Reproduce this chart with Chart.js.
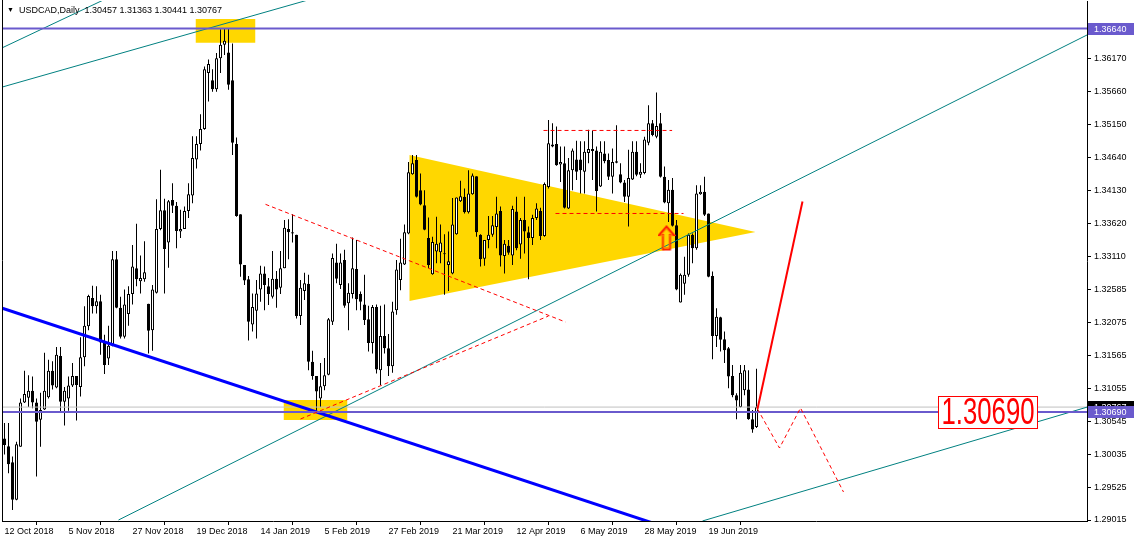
<!DOCTYPE html>
<html><head><meta charset="utf-8">
<script src="https://cdn.jsdelivr.net/npm/chart.js@4.4.1/dist/chart.umd.min.js"></script>
<style>
html,body{margin:0;padding:0;background:#fff;}
#wrap{position:relative;width:1134px;height:544px;overflow:hidden;}
canvas{display:block;}
#hdr{position:absolute;left:7px;top:4px;font:9px "Liberation Sans",Arial,sans-serif;color:#000;white-space:pre;line-height:12px;}
#hdr span{font-size:7px;vertical-align:1px;}
</style></head><body>
<div id="wrap"><canvas id="c" width="1134" height="544"></canvas>
<div id="hdr"><span>▼</span>  USDCAD,Daily  1.30457 1.31363 1.30441 1.30767</div></div>
<script>
// ---- candle data (daily USDCAD, index 0 = 12 Oct 2018) ----
const opens=[1.3028,1.3016,1.2991,1.2933,1.3015,1.3084,1.3091,1.3102,1.3084,1.3057,
1.3073,1.3092,1.3133,1.3107,1.3156,1.3085,1.3090,1.3110,1.3125,1.3108,
1.3154,1.3202,1.3246,1.3233,1.3241,1.3178,1.3152,1.3172,1.3306,1.3231,
1.3186,1.3221,1.3252,1.3292,1.3272,1.3275,1.3237,1.3196,1.3254,1.3353,
1.3382,1.3332,1.3398,1.3389,1.3349,1.3353,1.3381,1.3405,1.3461,1.3485,
1.3508,1.3595,1.3584,1.3570,1.3618,1.3639,1.3627,1.3584,1.3485,1.3376,
1.3297,1.3275,1.3205,1.3226,1.3259,1.3284,1.3264,1.3248,1.3276,1.3262,
1.3292,1.3353,1.3348,1.3344,1.3218,1.3257,1.3268,1.3147,1.3125,1.3090,
1.3109,1.3127,1.3209,1.3301,1.3266,1.3305,1.3238,1.3252,1.3291,1.3252,
1.3236,1.3213,1.3176,1.3232,1.3134,1.3187,1.3168,1.3140,1.3227,1.3274,
1.3298,1.3346,1.3438,1.3460,1.3413,1.3390,1.3339,1.3283,1.3318,1.3317,
1.3314,1.3297,1.3284,1.3345,1.3396,1.3403,1.3379,1.3407,1.3435,1.3344,
1.3307,1.3336,1.3344,1.3356,1.3381,1.3311,1.3327,1.3312,1.3380,1.3329,
1.3367,1.3348,1.3339,1.3370,1.3381,1.3342,1.3418,1.3481,1.3485,1.3453,
1.3455,1.3385,1.3444,1.3461,1.3461,1.3442,1.3471,1.3477,1.3475,1.3419,
1.3470,1.3460,1.3434,1.3458,1.3438,1.3425,1.3403,1.3430,1.3473,1.3437,
1.3440,1.3487,1.3517,1.3496,1.3517,1.3434,1.3393,1.3414,1.3359,1.3239,
1.3268,1.3282,1.3344,1.3323,1.3407,1.3411,1.3377,1.3280,1.3187,1.3216,
1.3182,1.3168,1.3125,1.3095,1.3077,1.3103,1.3104,1.3058,1.30457];
const highs=[1.3052,1.3052,1.3000,1.3023,1.3090,1.3133,1.3126,1.3124,1.3090,1.3099,
1.3161,1.3150,1.3148,1.3170,1.3170,1.3108,1.3124,1.3145,1.3125,1.3185,
1.3233,1.3251,1.3265,1.3264,1.3251,1.3189,1.3203,1.3319,1.3319,1.3248,
1.3259,1.3264,1.3328,1.3361,1.3312,1.3334,1.3237,1.3266,1.3399,1.3445,
1.3400,1.3398,1.3424,1.3395,1.3383,1.3388,1.3424,1.3497,1.3497,1.3531,
1.3605,1.3616,1.3601,1.3626,1.3663,1.3665,1.3664,1.3641,1.3495,1.3376,
1.3297,1.3280,1.3253,1.3274,1.3296,1.3295,1.3277,1.3319,1.3288,1.3319,
1.3367,1.3368,1.3376,1.3344,1.3274,1.3285,1.3282,1.3164,1.3125,1.3145,
1.3153,1.3215,1.3315,1.3330,1.3315,1.3321,1.3269,1.3340,1.3336,1.3256,
1.3282,1.3234,1.3235,1.3236,1.3234,1.3236,1.3190,1.3240,1.3305,1.3338,
1.3360,1.3457,1.3468,1.3468,1.3439,1.3413,1.3371,1.3341,1.3372,1.3360,
1.3345,1.3349,1.3401,1.3402,1.3428,1.3416,1.3444,1.3439,1.3435,1.3345,
1.3336,1.3373,1.3373,1.3403,1.3388,1.3336,1.3336,1.3389,1.3403,1.3370,
1.3403,1.3357,1.3375,1.3393,1.3386,1.3425,1.3522,1.3517,1.3512,1.3481,
1.3481,1.3463,1.3478,1.3490,1.3489,1.3489,1.3507,1.3506,1.3481,1.3489,
1.3489,1.3470,1.3478,1.3514,1.3455,1.3429,1.3476,1.3489,1.3489,1.3455,
1.3496,1.3545,1.3522,1.3565,1.3533,1.3450,1.3429,1.3432,1.3367,1.3284,
1.3310,1.3346,1.3346,1.3421,1.3421,1.3434,1.3377,1.3287,1.3230,1.3217,
1.3194,1.3170,1.3142,1.3098,1.3142,1.3142,1.3134,1.3072,1.31363];
const lows=[1.3003,1.2974,1.2917,1.2932,1.3015,1.3083,1.3077,1.3075,1.2969,1.3015,
1.3072,1.3090,1.3104,1.3106,1.3068,1.3048,1.3071,1.3108,1.3056,1.3093,
1.3140,1.3196,1.3222,1.3222,1.3158,1.3128,1.3142,1.3171,1.3230,1.3183,
1.3183,1.3203,1.3236,1.3264,1.3253,1.3271,1.3160,1.3164,1.3253,1.3351,
1.3253,1.3293,1.3378,1.3323,1.3339,1.3353,1.3370,1.3393,1.3447,1.3475,
1.3507,1.3551,1.3566,1.3566,1.3595,1.3623,1.3569,1.3468,1.3372,1.3279,
1.3266,1.3180,1.3194,1.3183,1.3240,1.3227,1.3235,1.3245,1.3231,1.3252,
1.3292,1.3306,1.3332,1.3214,1.3204,1.3243,1.3134,1.3119,1.3071,1.3077,
1.3103,1.3126,1.3204,1.3269,1.3260,1.3231,1.3196,1.3245,1.3227,1.3227,
1.3204,1.3163,1.3160,1.3129,1.3111,1.3160,1.3125,1.3130,1.3220,1.3258,
1.3297,1.3345,1.3437,1.3402,1.3390,1.3351,1.3292,1.3282,1.3300,1.3300,
1.3251,1.3257,1.3283,1.3344,1.3395,1.3377,1.3377,1.3406,1.3341,1.3295,
1.3296,1.3323,1.3341,1.3323,1.3295,1.3284,1.3313,1.3297,1.3320,1.3307,
1.3315,1.3275,1.3328,1.3367,1.3336,1.3341,1.3416,1.3480,1.3451,1.3426,
1.3385,1.3384,1.3413,1.3429,1.3408,1.3408,1.3455,1.3429,1.3380,1.3418,
1.3455,1.3429,1.3408,1.3455,1.3424,1.3395,1.3357,1.3429,1.3435,1.3432,
1.3438,1.3483,1.3497,1.3494,1.3433,1.3393,1.3364,1.3357,1.3258,1.3239,
1.3251,1.3279,1.3300,1.3321,1.3406,1.3373,1.3278,1.3151,1.3170,1.3163,
1.3145,1.3106,1.3092,1.3058,1.3076,1.3095,1.3057,1.3037,1.30441];
const closes=[1.3018,1.2988,1.2933,1.3019,1.3084,1.3097,1.3102,1.3084,1.3054,1.3072,
1.3102,1.3133,1.3110,1.3158,1.3085,1.3102,1.3110,1.3125,1.3111,1.3154,
1.3203,1.3249,1.3233,1.3241,1.3177,1.3142,1.3172,1.3306,1.3231,1.3186,
1.3236,1.3252,1.3295,1.3275,1.3277,1.3286,1.3195,1.3259,1.3353,1.3382,
1.3322,1.3396,1.3389,1.3350,1.3353,1.3381,1.3407,1.3463,1.3485,1.3508,
1.3601,1.3609,1.3570,1.3618,1.3639,1.3645,1.3577,1.3487,1.3373,1.3298,
1.3273,1.3209,1.3232,1.3253,1.3284,1.3266,1.3252,1.3276,1.3259,1.3292,
1.3355,1.3348,1.3346,1.3218,1.3262,1.3269,1.3147,1.3125,1.3101,1.3109,
1.3126,1.3213,1.3308,1.3276,1.3301,1.3234,1.3254,1.3292,1.3244,1.3240,
1.3212,1.3176,1.3232,1.3135,1.3187,1.3168,1.3140,1.3225,1.3290,1.3301,
1.3348,1.3441,1.3455,1.3403,1.3391,1.3352,1.3297,1.3333,1.3330,1.3332,
1.3314,1.3303,1.3360,1.3402,1.3404,1.3379,1.3408,1.3436,1.3348,1.3306,
1.3336,1.3344,1.3359,1.3377,1.3312,1.3330,1.3316,1.3384,1.3323,1.3367,
1.3349,1.3339,1.3370,1.3385,1.3342,1.3423,1.3486,1.3484,1.3452,1.3457,
1.3386,1.3444,1.3475,1.3442,1.3444,1.3473,1.3477,1.3474,1.3412,1.3473,
1.3458,1.3434,1.3457,1.3456,1.3425,1.3403,1.3432,1.3473,1.3437,1.3442,
1.3492,1.3517,1.3499,1.3513,1.3434,1.3394,1.3414,1.3358,1.3259,1.3282,
1.3282,1.3344,1.3323,1.3408,1.3411,1.3375,1.3279,1.3187,1.3217,1.3181,
1.3165,1.3124,1.3095,1.3087,1.3130,1.3134,1.3058,1.3042,1.30767];

// ---- axis ticks ----
const xTickIdx=[0,16,32,48,64,80,96,112,128,144,160,176];
const xTickLabels=['12 Oct 2018','5 Nov 2018','27 Nov 2018','19 Dec 2018','14 Jan 2019','5 Feb 2019','27 Feb 2019','21 Mar 2019','12 Apr 2019','6 May 2019','28 May 2019','19 Jun 2019'];
const yTicks=[1.29015,1.29525,1.30035,1.30545,1.31055,1.31565,1.32075,1.32585,1.33110,1.33620,1.34130,1.34640,1.35150,1.35660,1.36170];

// ---- drawn objects (bar index, price) ----
const hLevels=[1.36640,1.30690];
const bidPrice=1.30767;
const blueLine=[[-1,1.32309],[170,1.28806]];
const tealLines=[
 [[-1,1.36329],[30,1.37238]],
 [[-1,1.35725],[81.5,1.37183]],
 [[28.5,1.29015],[271,1.36552]],
 [[174.5,1.29000],[271,1.30773]]];
const redDashed=[
 [[65.25,1.33913],[140.25,1.32087]],
 [[74,1.30582],[136,1.32180]],
 [[134.75,1.35059],[166.9,1.35059]],
 [[137.75,1.33771],[169.75,1.33771]],
 [[188.25,1.30737],[193.75,1.30132],[199,1.30753],[209.75,1.29449]]];
const redSolid=[[188.25,1.30737],[199.5,1.33956]];
const boxes=[[47.75,62.75,1.36421,1.36788],[69.75,85.75,1.30567,1.30877]];
const triTop=[[101.2,1.34678],[187.75,1.33484]];
const triBottom=[[101.2,1.32413],[187.75,1.33484]];
const arrowPoint=[165.5,1.33390];
const textLabel={text:'1.30690',x:233.4,y:1.30939};

const pts=a=>a.map(([x,y])=>({x,y}));
const idx=opens.map((_,i)=>i);
const ds=[];
function line(points,color,width,dash,order){
  ds.push({type:'line',data:pts(points),borderColor:color,borderWidth:width,borderDash:dash||[],pointRadius:0,fill:false,tension:0,order:order});
}
line(redSolid,'#ff0000',2,null,0);
redDashed.forEach(l=>line(l,'#ff0000',1,[4,3],0));
hLevels.forEach(p=>line([[-1,p],[272,p]],'#6A5ACD',2,null,1));
line(blueLine,'#0000ff',3,null,1);
tealLines.forEach(l=>line(l,'#008080',1,null,1));
line([[-1,bidPrice],[272,bidPrice]],'#c0c0c0',1,null,2);

function makeArrow(){
  const c=document.createElement('canvas');c.width=18;c.height=26;const g=c.getContext('2d');
  const path=()=>{g.beginPath();g.moveTo(9,1.5);g.lineTo(16.5,10);g.lineTo(12.5,10);g.lineTo(12.5,24.5);g.lineTo(5.5,24.5);g.lineTo(5.5,10);g.lineTo(1.5,10);g.closePath();};
  path();g.lineWidth=2;g.strokeStyle='#ff1a00';g.stroke();
  g.save();g.translate(9,14);g.scale(0.78,0.82);g.translate(-9,-14);path();g.lineWidth=1.3;g.strokeStyle='#ff8c00';g.stroke();g.restore();
  return c;
}
ds.push({type:'scatter',data:pts([arrowPoint]),pointStyle:makeArrow(),pointRadius:10,showLine:false,order:0});

ds.push({type:'bar',data:idx.map(i=>({x:i,y:[opens[i],closes[i]]})),
  backgroundColor:c=>closes[c.dataIndex]>=opens[c.dataIndex]?'#ffffff':'#000000',
  borderColor:'#000',borderWidth:1,borderSkipped:false,barThickness:3,minBarLength:1,grouped:false,inflateAmount:0,order:5});
ds.push({type:'bar',data:idx.map(i=>({x:i,y:[lows[i],highs[i]]})),
  backgroundColor:'#000',borderWidth:0,barThickness:1,grouped:false,inflateAmount:0,order:6});

boxes.forEach(([x0,x1,y0,y1])=>{
  ds.push({type:'line',data:pts([[x0,y1],[x1,y1]]),borderWidth:0,pointRadius:0,fill:'+1',backgroundColor:'#FFD700',order:10});
  ds.push({type:'line',data:pts([[x0,y0],[x1,y0]]),borderWidth:0,pointRadius:0,fill:false,order:11});
});
ds.push({type:'line',data:pts(triTop),borderWidth:0,pointRadius:0,fill:'+1',backgroundColor:'#FFD700',order:10});
ds.push({type:'line',data:pts(triBottom),borderWidth:0,pointRadius:0,fill:false,order:11});

const FONT='"Liberation Sans", Arial, sans-serif';
const overlay={id:'overlay',afterDraw(chart){
  const {ctx,chartArea:a,scales:{x,y}}=chart;
  ctx.save();
  ctx.strokeStyle='#000';ctx.lineWidth=1;
  ctx.beginPath();ctx.moveTo(a.left+0.5,0);ctx.lineTo(a.left+0.5,a.bottom);ctx.stroke();
  function tag(price,bg,fg){
    const yy=Math.round(y.getPixelForValue(price));
    ctx.fillStyle=bg;ctx.fillRect(a.right+1,yy-6,47,12);
    ctx.fillStyle=fg;ctx.font='9px '+FONT;ctx.textAlign='left';ctx.textBaseline='middle';
    ctx.fillText(price.toFixed(5),a.right+7,yy+0.5);
  }
  tag(bidPrice,'#000','#fff');
  tag(hLevels[0],'#6A5ACD','#fff');
  tag(hLevels[1],'#6A5ACD','#fff');
  const bx=Math.round(x.getPixelForValue(textLabel.x))+0.5, by=Math.round(y.getPixelForValue(textLabel.y))+0.5;
  ctx.fillStyle='#fff';ctx.fillRect(bx,by,99,32);
  ctx.strokeStyle='#ff0000';ctx.lineWidth=1;ctx.strokeRect(bx,by,99,32);
  ctx.font='36px '+FONT;ctx.textBaseline='alphabetic';ctx.fillStyle='#ff0000';
  const w=ctx.measureText(textLabel.text).width;
  ctx.translate(bx+3,by+27.5);ctx.scale(93/w,1);ctx.fillText(textLabel.text,0,0);
  ctx.restore();
}};

function noPad(s){s.paddingLeft=0;s.paddingRight=0;s.paddingTop=0;s.paddingBottom=0;}

new Chart(document.getElementById('c'),{
  type:'bar',
  data:{datasets:ds},
  options:{
    responsive:false,animation:false,devicePixelRatio:1,
    layout:{autoPadding:false,padding:{left:2,top:1,right:0,bottom:0}},
    plugins:{legend:{display:false},tooltip:{enabled:false}},
    scales:{
      x:{type:'linear',min:-0.625,max:270.625,offset:false,
        afterBuildTicks(s){s.ticks=xTickIdx.map(v=>({value:v}));},
        afterFit(s){s.height=23;noPad(s);},
        grid:{drawOnChartArea:false,drawTicks:true,tickLength:4,color:'#000'},
        border:{display:true,color:'#000',width:1},
        ticks:{align:'start',autoSkip:false,maxRotation:0,padding:1,color:'#000',font:{family:FONT,size:9},callback:(v,i)=>xTickLabels[i]}},
      y:{type:'linear',position:'right',min:1.289995,max:1.370678,
        afterBuildTicks(s){s.ticks=yTicks.map(v=>({value:v}));},
        afterFit(s){s.width=47;noPad(s);},
        grid:{drawOnChartArea:false,drawTicks:true,tickLength:4,color:'#000'},
        border:{display:true,color:'#000',width:1},
        ticks:{autoSkip:false,padding:3,color:'#000',font:{family:FONT,size:9},callback:v=>Number(v).toFixed(5)}}
    }
  },
  plugins:[overlay]
});
</script>
</body></html>
